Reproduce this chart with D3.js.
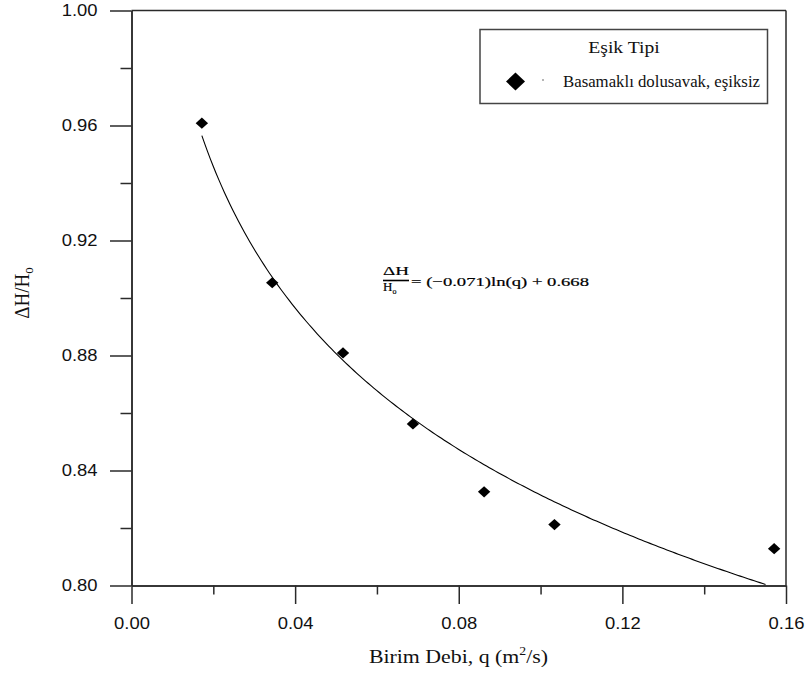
<!DOCTYPE html>
<html>
<head>
<meta charset="utf-8">
<script src="https://cdn.jsdelivr.net/npm/d3@7"></script>
<style>
  html, body { margin: 0; padding: 0; background: #fff; }
  svg { display: block; }
</style>
</head>
<body>
<svg id="chart" width="808" height="673"></svg>
<script>
// Measured unit discharge q (m²/s) and relative energy loss ΔH/Ho
const qValues = [0.0172, 0.0344, 0.0517, 0.0688, 0.0862, 0.1034, 0.1571];
const ratioValues = [0.9608, 0.9053, 0.8809, 0.8562, 0.8326, 0.8212, 0.8128];

// Logarithmic fit ΔH/Ho = a·ln(q) + b
const fitSlope = -0.071;
const fitIntercept = 0.668;
const fitRange = [0.0172, 0.155];

// Axis ticks
const xTicks = [0.00, 0.04, 0.08, 0.12, 0.16];
const xMinorTicks = [0.02, 0.06, 0.10, 0.14];
const yTicks = [0.80, 0.84, 0.88, 0.92, 0.96, 1.00];
const yMinorTicks = [0.82, 0.86, 0.90, 0.94, 0.98];

const legendTitle = "Eşik Tipi";
const seriesName = "Basamaklı dolusavak, eşiksiz";

const svg = d3.select("#chart");
const plotLeft = 131.5, plotRight = 786, plotTop = 10.5, plotBottom = 585.5;

const x = d3.scaleLinear().domain([0, 0.16]).range([plotLeft, plotRight]);
const y = d3.scaleLinear().domain([0.80, 1.00]).range([plotBottom, plotTop]);

const lineColor = "#2a2a2a";
const sans = "'Liberation Sans', Arial, sans-serif";
const serifFont = "'Liberation Serif', 'Times New Roman', serif";

// Widen glyphs horizontally by factor k
function stretch(sel, k) {
  sel.each(function () {
    const w = this.getComputedTextLength();
    d3.select(this).attr("textLength", w * k).attr("lengthAdjust", "spacingAndGlyphs");
  });
}

// Left axis (major + minor)
const yAxis = svg.append("g").attr("transform", `translate(${plotLeft},0)`)
  .call(d3.axisLeft(y).tickValues(yTicks).tickFormat(d3.format(".2f"))
    .tickSize(21.5).tickPadding(12.5).tickSizeOuter(0));
const yMinor = svg.append("g").attr("transform", `translate(${plotLeft},0)`)
  .call(d3.axisLeft(y).tickValues(yMinorTicks).tickFormat("").tickSize(11).tickSizeOuter(0));

// Bottom axis (major + minor)
const xAxis = svg.append("g").attr("transform", `translate(0,${plotBottom})`)
  .call(d3.axisBottom(x).tickValues(xTicks).tickFormat(d3.format(".2f"))
    .tickSize(18.5).tickPadding(14).tickSizeOuter(0));
const xMinor = svg.append("g").attr("transform", `translate(0,${plotBottom})`)
  .call(d3.axisBottom(x).tickValues(xMinorTicks).tickFormat("").tickSize(9).tickSizeOuter(0));

[yAxis, yMinor, xAxis, xMinor].forEach(g => {
  g.selectAll("path.domain, .tick line").attr("stroke", lineColor).attr("stroke-width", 1.5);
  g.selectAll("text").attr("fill", "#111").style("font-family", sans).style("font-size", "16px");
});
stretch(yAxis.selectAll("text"), 1.15);
stretch(xAxis.selectAll("text"), 1.15);

// Top and right frame
svg.append("line").attr("x1", plotLeft).attr("x2", plotRight).attr("y1", y(1.0)).attr("y2", y(1.0))
  .attr("stroke", lineColor).attr("stroke-width", 1.5);
svg.append("line").attr("x1", plotRight).attr("x2", plotRight).attr("y1", y(1.0)).attr("y2", y(0.80))
  .attr("stroke", lineColor).attr("stroke-width", 1.5);

// Fitted curve
const fitQ = d3.range(0, 201).map(i => fitRange[0] + (fitRange[1] - fitRange[0]) * i / 200);
const fitLine = d3.line().x(d => x(d)).y(d => y(fitSlope * Math.log(d) + fitIntercept));
svg.append("path").datum(fitQ).attr("d", fitLine)
  .attr("fill", "none").attr("stroke", "#000").attr("stroke-width", 1.1);

// Diamond markers
function diamond(hw, hh) {
  return `M0,${-hh}L${hw},0L0,${hh}L${-hw},0Z`;
}
svg.append("g").selectAll("path").data(qValues).join("path")
  .attr("transform", (d, i) => `translate(${x(d)},${y(ratioValues[i])})`)
  .attr("d", diamond(6.2, 5.6)).attr("fill", "#000");

// Fit equation
const eq = svg.append("g").style("font-family", serifFont).attr("fill", "#000")
  .attr("stroke", "#000").attr("stroke-width", 0.2);
eq.append("text").attr("x", 383).attr("y", 274.5)
  .style("font-size", "13px").attr("textLength", 26).attr("lengthAdjust", "spacingAndGlyphs").text("ΔH");
eq.append("line").attr("x1", 383).attr("x2", 409).attr("y1", 280.5).attr("y2", 280.5)
  .attr("stroke", "#000").attr("stroke-width", 1.6);
const den = eq.append("text").attr("x", 383).attr("y", 291)
  .style("font-size", "13px");
den.append("tspan").text("H");
den.append("tspan").attr("dy", 3).style("font-size", "8px").text("o");
eq.append("text").attr("x", 411).attr("y", 286)
  .style("font-size", "13.5px")
  .attr("textLength", 178).attr("lengthAdjust", "spacingAndGlyphs")
  .text("= (−0.071)ln(q) + 0.668");

// Legend
const lg = svg.append("g");
lg.append("rect").attr("x", 480).attr("y", 29.5).attr("width", 287.5).attr("height", 74)
  .attr("fill", "#fff").attr("stroke", "#444").attr("stroke-width", 1.5);
const lt = lg.append("text").attr("x", 624).attr("y", 52.5).attr("text-anchor", "middle")
  .style("font-family", serifFont).style("font-size", "17.5px").attr("fill", "#111").text(legendTitle);
stretch(lt, 1.12);
lg.append("path").attr("transform", "translate(515.5,81.5)").attr("d", diamond(9.5, 9)).attr("fill", "#000");
lg.append("circle").attr("cx", 543).attr("cy", 80).attr("r", 0.7).attr("fill", "#333");
lg.append("text").attr("x", 563).attr("y", 86.5)
  .style("font-family", serifFont).style("font-size", "16px").attr("fill", "#111")
  .attr("textLength", 197).attr("lengthAdjust", "spacingAndGlyphs").text(seriesName);

// Axis titles
const xt = svg.append("text").attr("transform", "translate(458.5,663) scale(1.15,1)")
  .attr("text-anchor", "middle")
  .style("font-family", serifFont).style("font-size", "19px").attr("fill", "#111");
xt.append("tspan").text("Birim Debi, q (m");
xt.append("tspan").attr("dy", -8).style("font-size", "12px").text("2");
xt.append("tspan").attr("dy", 8).text("/s)");

const yt = svg.append("text").attr("transform", "translate(29,293) rotate(-90) scale(1,1.12)")
  .attr("text-anchor", "middle").style("font-family", serifFont).style("font-size", "19px").attr("fill", "#111");
yt.append("tspan").text("ΔH/H");
yt.append("tspan").attr("dy", 4).style("font-size", "13px").text("o");
</script>
</body>
</html>
